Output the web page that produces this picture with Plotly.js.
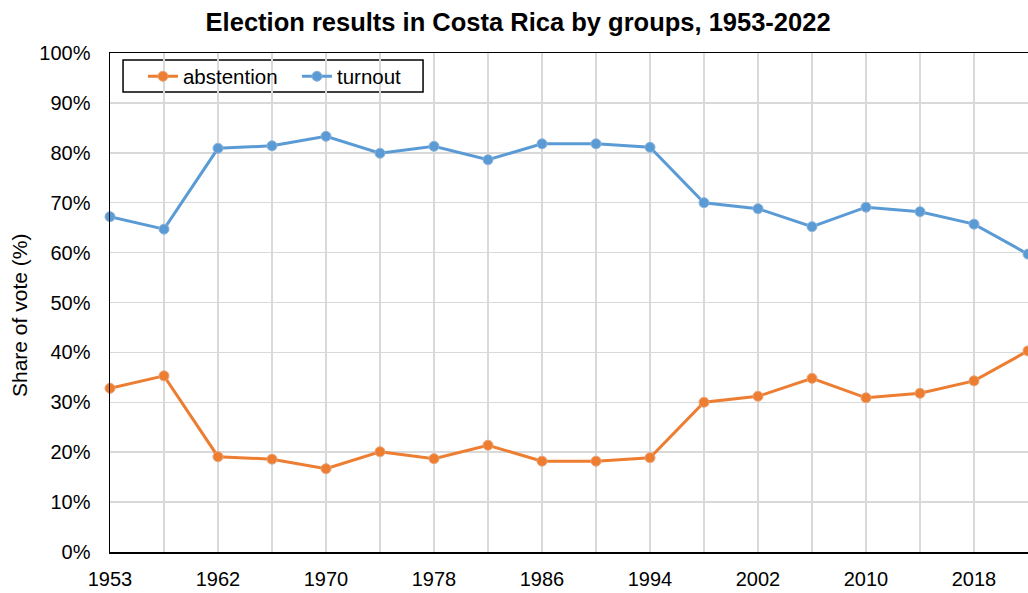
<!DOCTYPE html>
<html>
<head>
<meta charset="utf-8">
<script src="https://cdn.plot.ly/plotly-3.0.1.min.js"></script>
<style>
  html, body { margin: 0; padding: 0; background: #fff; }
  #chart { width: 1028px; height: 593px; }
</style>
</head>
<body>
<div id="chart"></div>
<script>
// Election years (one category each) and the shares of the vote
const years = ['1953', '1958', '1962', '1966', '1970', '1974', '1978', '1982', '1986',
               '1990', '1994', '1998', '2002', '2006', '2010', '2014', '2018', '2022'];
const turnout = [67.2, 64.7, 80.9, 81.4, 83.3, 79.9, 81.3, 78.6, 81.8,
                 81.8, 81.1, 70.0, 68.8, 65.2, 69.1, 68.2, 65.7, 59.7];
const abstention = [32.8, 35.3, 19.1, 18.6, 16.7, 20.1, 18.7, 21.4, 18.2,
                    18.2, 18.9, 30.0, 31.2, 34.8, 30.9, 31.8, 34.3, 40.3];
// Every other year is labelled on the axis
const xTickText = ['1953', '', '1962', '', '1970', '', '1978', '', '1986',
                   '', '1994', '', '2002', '', '2010', '', '2018', ''];
const yTickVals = [0, 10, 20, 30, 40, 50, 60, 70, 80, 90, 100];
const yTickText = ['0%', '10%', '20%', '30%', '40%', '50%', '60%', '70%', '80%', '90%', '100%'];

const font = 'Liberation Sans, Arial, sans-serif';

function series(name, values, color, edge) {
  return {
    type: 'scatter',
    mode: 'lines+markers',
    name: name,
    x: years,
    y: values,
    line: { color: color, width: 3 },
    marker: { color: color, size: 10, line: { color: edge, width: 1 } },
    cliponaxis: false
  };
}

const data = [
  series('abstention', abstention, '#ED7D31', '#e9a376'),
  series('turnout', turnout, '#5B9BD5', '#8db3d8')
];

const layout = {
  width: 1028,
  height: 593,
  margin: { l: 110, r: 0, t: 53, b: 41 },
  paper_bgcolor: '#ffffff',
  plot_bgcolor: '#ffffff',
  font: { family: font, size: 20, color: '#000' },
  title: {
    text: '<b>Election results in Costa Rica by groups, 1953-2022</b>',
    font: { family: font, size: 25.5, color: '#000' },
    x: 0.504, xref: 'container', xanchor: 'center',
    y: 0.962, yref: 'container', yanchor: 'middle'
  },
  xaxis: {
    type: 'category',
    range: [0, 17],
    tickmode: 'array',
    tickvals: years,
    ticktext: xTickText,
    ticks: '',
    ticklabelstandoff: 8,
    showgrid: true,
    gridcolor: '#d9d9d9',
    gridwidth: 1.5,
    showline: true,
    linecolor: '#000',
    linewidth: 1.5,
    mirror: true,
    zeroline: false,
    tickfont: { family: font, size: 20, color: '#000' }
  },
  yaxis: {
    range: [0, 100],
    tickmode: 'array',
    tickvals: yTickVals,
    ticktext: yTickText,
    ticks: '',
    ticklabelstandoff: 14,
    showgrid: true,
    gridcolor: '#d9d9d9',
    gridwidth: 1.5,
    showline: true,
    linecolor: '#000',
    linewidth: 1.5,
    zeroline: false,
    tickfont: { family: font, size: 20, color: '#000' }
  },
  // y-axis caption, set as rotated text beside the axis
  annotations: [{
    text: 'Share of vote (%)',
    xref: 'paper', yref: 'paper',
    x: -0.098, y: 0.473,
    xanchor: 'center', yanchor: 'middle',
    textangle: -90,
    showarrow: false,
    font: { family: font, size: 21, color: '#000' }
  }],
  // legend frame
  shapes: [{
    type: 'rect',
    xref: 'paper', yref: 'paper',
    x0: 0.0142, x1: 0.3410, y0: 0.9218, y1: 0.986,
    line: { color: '#000', width: 1.5 },
    fillcolor: '#ffffff',
    layer: 'below'
  }],
  legend: {
    orientation: 'h',
    x: 0.0359, xanchor: 'left',
    y: 0.993, yanchor: 'top',
    bgcolor: 'rgba(0,0,0,0)',
    borderwidth: 0,
    font: { family: font, size: 20.5, color: '#000' },
    entrywidth: 109,
    entrywidthmode: 'pixels',
    tracegroupgap: 0
  },
  showlegend: true
};

Plotly.newPlot('chart', data, layout, { displayModeBar: false, staticPlot: true });
</script>
</body>
</html>
